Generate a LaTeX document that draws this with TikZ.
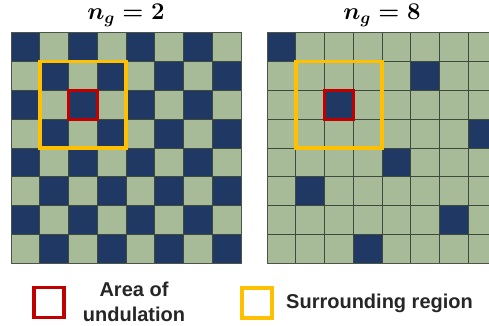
\documentclass[tikz,border=0pt]{standalone}
\usepackage{fix-cm}
\usepackage[no-math]{fontspec}
\setmainfont{Liberation Sans}
\definecolor{navy}{HTML}{1F3864}
\definecolor{sage}{HTML}{A8BB98}
\definecolor{gridc}{HTML}{3E4A3B}
\definecolor{undred}{HTML}{C00000}
\definecolor{suryel}{HTML}{FFC000}
\tikzset{
  gridline/.style={draw=gridc, line width=0.8pt},
  outerline/.style={draw=gridc!80!gray, line width=1pt},
  undbox/.style={draw=undred, line width=3.5pt},
  surbox/.style={draw=suryel, line width=3.5pt},
  titletext/.style={anchor=base, inner sep=0pt, font=\fontsize{24}{28}\selectfont},
  legtext/.style={inner sep=0pt, font=\bfseries\fontsize{20}{24}\selectfont, text=black!85},
  legkey/.style={minimum size=30pt, inner sep=0pt}
}
\begin{document}
\begin{tikzpicture}[x=1pt,y=-1pt]
\useasboundingbox (0,0) rectangle (489,326);
\clip (0,0) rectangle (489,326);
\def\cw{28.75}
% left grid: checkerboard
\foreach \r in {0,...,7}{
  \foreach \c in {0,...,7}{
    \pgfmathtruncatemacro\pp{mod(\r+\c,2)}
    \ifnum\pp=0
      \fill[navy] (11+\c*\cw,33+\r*\cw) rectangle ++(\cw,\cw);
    \else
      \fill[sage] (11+\c*\cw,33+\r*\cw) rectangle ++(\cw,\cw);
    \fi
  }
}
\foreach \i in {1,...,7}{
  \draw[gridline] (11+\i*\cw,33) -- (11+\i*\cw,263);
  \draw[gridline] (11,33+\i*\cw) -- (241,33+\i*\cw);
}
\draw[outerline] (11,33) rectangle (241,263);
% right grid: sparse
\fill[sage] (267,33) rectangle (497,263);
\foreach \c/\r in {0/0,5/1,2/2,7/3,4/4,1/5,6/6,3/7}{
  \fill[navy] (267+\c*\cw,33+\r*\cw) rectangle ++(\cw,\cw);
}
\foreach \i in {1,...,7}{
  \draw[gridline] (267+\i*\cw,33) -- (267+\i*\cw,263);
  \draw[gridline] (267,33+\i*\cw) -- (497,33+\i*\cw);
}
\draw[outerline] (267,33) rectangle (497,263);
% surrounding regions and areas of undulation
\draw[surbox] (11+\cw,33+\cw) rectangle ++(3*\cw,3*\cw);
\draw[undbox] (11+2*\cw,33+2*\cw) rectangle ++(\cw,\cw);
\draw[surbox] (267+\cw,33+\cw) rectangle ++(3*\cw,3*\cw);
\draw[undbox] (267+2*\cw,33+2*\cw) rectangle ++(\cw,\cw);
% titles
\node[titletext] (t1) at (126,20) {{\boldmath$n_g = 2$}};
\node[titletext] (t2) at (382,20) {{\boldmath$n_g = 8$}};
% legend
\node[legkey, undbox] (k1) at (49,302.5) {};
\node[legtext, anchor=base] (l1a) at (134,296) {Area of};
\node[legtext, anchor=base] (l1b) at (134,321) {undulation};
\node[legkey, surbox] (k2) at (257,303) {};
\node[legtext, anchor=base west] (l2) at (286,308) {Surrounding region};
\end{tikzpicture}
\end{document}
